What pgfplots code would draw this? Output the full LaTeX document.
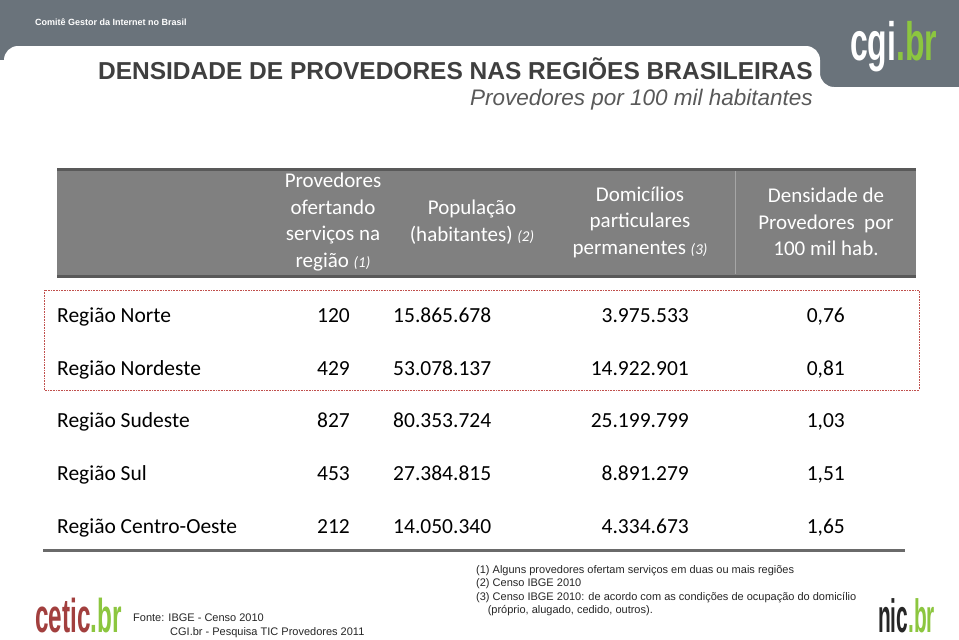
\documentclass[border=0pt]{standalone}
\usepackage{pgfplots}
\usepackage{pgfplotstable}
\pgfplotsset{compat=1.18}
\usepackage{fontspec}
\setmainfont{Carlito}
\newfontfamily\arial{Liberation Sans}
\definecolor{banner}{HTML}{6A737B}
\definecolor{headfill}{HTML}{808080}
\definecolor{headline}{HTML}{595959}
\definecolor{titlec}{HTML}{3F3F3F}
\definecolor{subc}{HTML}{595959}
\definecolor{brgreen}{HTML}{8CC63F}
\definecolor{ceticred}{HTML}{A23F3E}
\definecolor{dotred}{HTML}{C0504D}
\tikzset{head/.style={text=white, align=center, inner sep=0pt, font=\fontsize{21}{26.5}\selectfont}}

\pgfplotstableread[col sep=semicolon]{
y;name;prov;pop;dom;dens
322;Região Norte;120;15.865.678;3.975.533;0,76
375;Região Nordeste;429;53.078.137;14.922.901;0,81
427;Região Sudeste;827;80.353.724;25.199.799;1,03
480;Região Sul;453;27.384.815;8.891.279;1,51
533;Região Centro-Oeste;212;14.050.340;4.334.673;1,65
}\regiondata

\begin{document}
\begin{tikzpicture}
\begin{axis}[
  scale only axis, width=959pt, height=640pt,
  xmin=0, xmax=959, ymin=0, ymax=640, y dir=reverse,
  hide axis, clip=false,
  every node near coord/.style={font=\fontsize{21.5}{24}\selectfont, text=black, inner sep=0pt},
]
% background and banner
\fill[white] (0,0) rectangle (959,640);
\fill[banner] (0,0) rectangle (959,60);
\fill[banner] (820,0) rectangle (959,87);
\fill[white] (4,640) [rounded corners=14pt] -- (4,46) -- (820,46) -- (820,87) [sharp corners] -- (959,87) -- (959,640) -- cycle;
\fill[white] (0,62) rectangle (5,640);
\node[anchor=base west, text=white, inner sep=0pt, font=\arial\bfseries\fontsize{9}{10}\selectfont] at (35,25) {Comitê Gestor da Internet no Brasil};
\node[anchor=base west, inner sep=0pt, xscale=0.68, yscale=1.15, font=\arial\bfseries\fontsize{47}{47}\selectfont] at (850,60) {\textcolor{white}{cgi}\textcolor{brgreen}{.br}};

% titles
\node[anchor=base east, inner sep=0pt, text=titlec, font=\arial\bfseries\fontsize{24.5}{26}\selectfont] at (813,79) {DENSIDADE DE PROVEDORES NAS REGIÕES BRASILEIRAS};
\node[anchor=base east, inner sep=0pt, text=subc, font=\arial\itshape\fontsize{22.5}{24}\selectfont] at (813,105) {Provedores por 100 mil habitantes};

% header band
\fill[headfill] (57,168) rectangle (916,277);
\draw[headline, line width=3pt] (57,169) -- (916,169);
\draw[headline, line width=3pt] (57,276) -- (916,276);
\draw[gray!70!white, line width=0.6pt] (735,171) -- (735,274);
\node[head] at (333,222) {Provedores\\ofertando\\serviços na\\região {\fontsize{15}{15}\selectfont\itshape (1)}};
\node[head] at (472,222) {População\\(habitantes) {\fontsize{15}{15}\selectfont\itshape (2)}};
\node[head] at (640,222) {Domicílios\\particulares\\permanentes {\fontsize{15}{15}\selectfont\itshape (3)}};
\node[head] at (826,222) {Densidade de\\Provedores~ por\\100 mil hab.};

% dotted highlight box
\draw[dotred, densely dotted, line width=0.6pt] (44,290) rectangle (919,390);

% data columns
\addplot[draw=none, mark=none, nodes near coords, point meta=explicit symbolic,
  nodes near coords style={anchor=base west}] table[x expr=57, y=y, meta=name] {\regiondata};
\addplot[draw=none, mark=none, nodes near coords, point meta=explicit symbolic,
  nodes near coords style={anchor=base east}] table[x expr=350, y=y, meta=prov] {\regiondata};
\addplot[draw=none, mark=none, nodes near coords, point meta=explicit symbolic,
  nodes near coords style={anchor=base west}] table[x expr=393, y=y, meta=pop] {\regiondata};
\addplot[draw=none, mark=none, nodes near coords, point meta=explicit symbolic,
  nodes near coords style={anchor=base east}] table[x expr=689, y=y, meta=dom] {\regiondata};
\addplot[draw=none, mark=none, nodes near coords, point meta=explicit symbolic,
  nodes near coords style={anchor=base east}] table[x expr=845, y=y, meta=dens] {\regiondata};

% bottom rule
\draw[headline!90!white, line width=3pt] (43,550) -- (905,550);

% footnotes
\node[anchor=north west, align=left, inner sep=0pt, text=black!85, font=\arial\fontsize{11}{13.6}\selectfont] at (476,565) {(1) Alguns provedores ofertam serviços em duas ou mais regiões\\(2) Censo IBGE 2010\\(3) Censo IBGE 2010: de acordo com as condições de ocupação do domicílio\\\hspace*{1.05em}(próprio, alugado, cedido, outros).};
\node[anchor=base west, inner sep=0pt, text=black!85, font=\arial\fontsize{11}{13}\selectfont] at (133,621) {Fonte: IBGE - Censo 2010};
\node[anchor=base west, inner sep=0pt, text=black!85, font=\arial\fontsize{11}{13}\selectfont] at (170,635) {CGI.br - Pesquisa TIC Provedores 2011};

% logos
\node[anchor=base west, inner sep=0pt, xscale=0.64, yscale=1.25, font=\arial\bfseries\fontsize{38}{38}\selectfont] at (35,632) {\textcolor{ceticred}{cetic}\textcolor{brgreen}{.br}};
\node[anchor=base west, inner sep=0pt, xscale=0.58, yscale=1.3, font=\arial\bfseries\fontsize{36}{36}\selectfont] at (878,632) {\textcolor{black!85}{nic}\textcolor{brgreen}{.br}};
\end{axis}
\end{tikzpicture}
\end{document}
